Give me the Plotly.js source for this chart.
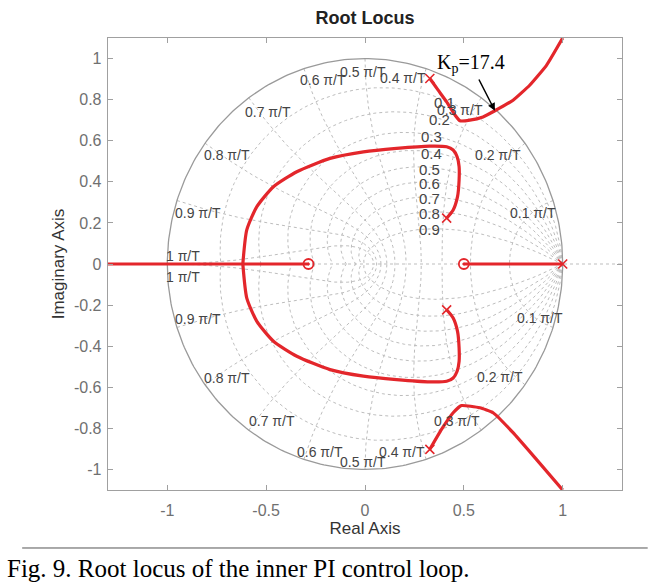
<!DOCTYPE html>
<html><head><meta charset="utf-8">
<script src="https://cdn.plot.ly/plotly-3.0.1.min.js"></script>
<style>body{margin:0;background:#fff}#chart{width:667px;height:585px}</style>
</head><body><div id="chart"></div>
<script>
// ---- root locus data ----
const cUpperX = [0.413, 0.446, 0.468, 0.476, 0.476, 0.466, 0.446, 0.413, 0.328, 0.16, -0.008, -0.177, -0.345, -0.463, -0.547, -0.598, -0.618];
const cUpperY = [0.223, 0.263, 0.328, 0.409, 0.474, 0.522, 0.555, 0.571, 0.574, 0.563, 0.546, 0.514, 0.449, 0.376, 0.279, 0.166, 0];
const cLowerX = [0.413, 0.446, 0.468, 0.476, 0.476, 0.466, 0.446, 0.413, 0.328, 0.16, -0.008, -0.177, -0.345, -0.463, -0.547, -0.598, -0.618];
const cLowerY = [-0.223, -0.263, -0.328, -0.409, -0.474, -0.522, -0.555, -0.571, -0.574, -0.563, -0.546, -0.514, -0.449, -0.376, -0.279, -0.166, 0];
const outUpperX = [0.328, 0.37, 0.413, 0.455, 0.48, 0.53, 0.597, 0.657, 0.749, 0.833, 0.918, 1.0];
const outUpperY = [0.903, 0.846, 0.789, 0.725, 0.697, 0.7, 0.716, 0.746, 0.797, 0.87, 0.967, 1.1];
const outLowerX = [0.328, 0.387, 0.446, 0.488, 0.581, 0.648, 0.749, 0.867, 1.0];
const outLowerY = [-0.902, -0.805, -0.724, -0.689, -0.7, -0.724, -0.821, -0.951, -1.1];
const realLeftX = [-1.3, -0.286];
const realLeftY = [0, 0];
const realRightX = [0.5, 1.0];
const realRightY = [0, 0];
const poleX = [1.0, 0.328, 0.328, 0.413, 0.413];
const poleY = [0, 0.903, -0.902, 0.223, -0.223];
const zeroX = [-0.286, 0.5];
const zeroY = [0, 0];
const kpPointX = 0.657, kpPointY = 0.746;

// tick labels
const xTickVals = [-1, -0.5, 0, 0.5, 1];
const xTickText = ['-1', '-0.5', '0', '0.5', '1'];
const yTickVals = [-1, -0.8, -0.6, -0.4, -0.2, 0, 0.2, 0.4, 0.6, 0.8, 1];
const yTickText = ['-1', '-0.8', '-0.6', '-0.4', '-0.2', '0', '0.2', '0.4', '0.6', '0.8', '1'];

// grid labels
const dampLabels = ['0.1','0.2','0.3','0.4','0.5','0.6','0.7','0.8','0.9'];
const dampLabelX = [0.404, 0.379, 0.337, 0.337, 0.328, 0.325, 0.325, 0.325, 0.325];
const dampLabelY = [0.788, 0.701, 0.619, 0.539, 0.461, 0.393, 0.32, 0.244, 0.166];
const freqLabels = ['0.1 π/T','0.2 π/T','0.3 π/T','0.4 π/T','0.5 π/T','0.6 π/T','0.7 π/T','0.8 π/T','0.9 π/T','1 π/T'];
const freqUpX = [0.848, 0.672, 0.48, 0.19, -0.01, -0.212, -0.49, -0.697, -0.843, -0.919];
const freqUpY = [0.249, 0.53, 0.749, 0.904, 0.933, 0.895, 0.739, 0.53, 0.249, 0.04];
const freqLoX = [0.884, 0.682, 0.465, 0.187, -0.01, -0.227, -0.47, -0.697, -0.843, -0.919];
const freqLoY = [-0.261, -0.548, -0.766, -0.917, -0.966, -0.917, -0.766, -0.555, -0.27, -0.062];

// ---- zgrid geometry ----
function zgrid() {
  const gx = [], gy = [];
  // damping ratio lines
  for (let k = 1; k <= 9; k++) {
    const zeta = k / 10, s = Math.sqrt(1 - zeta * zeta);
    const wmax = Math.PI / s;
    for (const sign of [1, -1]) {
      for (let i = 0; i <= 200; i++) {
        const w = wmax * i / 200;
        const m = Math.exp(-zeta * w);
        gx.push(m * Math.cos(w * s)); gy.push(sign * m * Math.sin(w * s));
      }
      gx.push(null); gy.push(null);
    }
  }
  // natural frequency lines
  for (let k = 1; k <= 10; k++) {
    const w = k * Math.PI / 10;
    for (const sign of [1, -1]) {
      for (let i = 0; i <= 120; i++) {
        const zeta = i / 120, s = Math.sqrt(1 - zeta * zeta);
        const m = Math.exp(-zeta * w);
        gx.push(m * Math.cos(w * s)); gy.push(sign * m * Math.sin(w * s));
      }
      gx.push(null); gy.push(null);
    }
  }
  gx.push(-1.3, 1.3); gy.push(0, 0);
  return [gx, gy];
}
const [gridX, gridY] = zgrid();
const circX = [], circY = [];
for (let i = 0; i <= 360; i++) { circX.push(Math.cos(i * Math.PI / 180)); circY.push(Math.sin(i * Math.PI / 180)); }

const red = '#e3262b';
const locusLine = {color: red, width: 3.2, shape: 'spline', smoothing: 0.6};
const traces = [
  {x: gridX, y: gridY, mode: 'lines', line: {color: '#bdbdbd', width: 1, dash: 'dot'}, hoverinfo: 'skip'},
  {x: circX, y: circY, mode: 'lines', line: {color: '#9a9a9a', width: 1.3}, hoverinfo: 'skip'},
  {x: realLeftX, y: realLeftY, mode: 'lines', line: {color: red, width: 3.2}},
  {x: realRightX, y: realRightY, mode: 'lines', line: {color: red, width: 3.2}},
  {x: cUpperX, y: cUpperY, mode: 'lines', line: locusLine},
  {x: cLowerX, y: cLowerY, mode: 'lines', line: locusLine},
  {x: outUpperX, y: outUpperY, mode: 'lines', line: {color: red, width: 3.2, shape: 'spline', smoothing: 0.4}},
  {x: outLowerX, y: outLowerY, mode: 'lines', line: {color: red, width: 3.2, shape: 'spline', smoothing: 0.4}},
  {x: poleX, y: poleY, mode: 'markers', marker: {symbol: 'x-thin-open', size: 9, color: red, line: {color: red, width: 1.6}}},
  {x: zeroX, y: zeroY, mode: 'markers', marker: {symbol: 'circle-open-dot', size: 10, color: red, line: {color: red, width: 1.8}}}
];

const ann = [];
dampLabels.forEach((t, i) => ann.push({x: dampLabelX[i], y: dampLabelY[i], text: t, showarrow: false,
  font: {family: 'Liberation Sans, Arial', size: 15, color: '#444'}}));
freqLabels.forEach((t, i) => {
  ann.push({x: freqUpX[i], y: freqUpY[i], text: t, showarrow: false, font: {family: 'Liberation Sans, Arial', size: 14, color: '#444'}});
  ann.push({x: freqLoX[i], y: freqLoY[i], text: t, showarrow: false, font: {family: 'Liberation Sans, Arial', size: 14, color: '#444'}});
});
ann.push({x: kpPointX, y: kpPointY, text: 'K<sub>p</sub>=17.4', showarrow: true, ax: -24, ay: -47,
  arrowhead: 2, arrowsize: 1, arrowwidth: 1.5, arrowcolor: '#000', startstandoff: 2,
  font: {family: 'Liberation Serif, Times New Roman', size: 20, color: '#000'}});
ann.push({xref: 'paper', yref: 'paper', x: -0.2004, y: -0.1726, xanchor: 'left', yanchor: 'middle', showarrow: false,
  text: 'Fig. 9. Root locus of the inner PI control loop.',
  font: {family: 'Liberation Serif, Times New Roman', size: 25, color: '#000'}});

const axisCommon = {showgrid: false, zeroline: false, showline: true, linecolor: '#a0a0a0', linewidth: 1.3,
  mirror: 'ticks', ticks: 'inside', ticklen: 5, tickcolor: '#a0a0a0', tickwidth: 1,
  tickfont: {family: 'Liberation Sans, Arial', size: 16, color: '#707070'}};

const layout = {
  width: 667, height: 585,
  margin: {l: 108, r: 45, t: 38, b: 95},
  paper_bgcolor: '#fff', plot_bgcolor: '#fff',
  showlegend: false,
  title: {text: '<b>Root Locus</b>', x: 0.5, xref: 'paper', y: 1 - 18 / 585, yref: 'container', yanchor: 'middle',
    font: {family: 'Liberation Sans, Arial', size: 18, color: '#222'}},
  xaxis: Object.assign({}, axisCommon, {range: [-1.3, 1.3], tickvals: xTickVals, ticktext: xTickText, ticklabelstandoff: 5,
    title: {text: 'Real Axis', standoff: 1, font: {family: 'Liberation Sans, Arial', size: 17, color: '#333'}}}),
  yaxis: Object.assign({}, axisCommon, {range: [-1.1, 1.1], tickvals: yTickVals, ticktext: yTickText, ticklabelstandoff: 2,
    title: {text: 'Imaginary Axis', standoff: 5, font: {family: 'Liberation Sans, Arial', size: 17, color: '#333'}}}),
  annotations: ann,
  shapes: [{type: 'line', xref: 'paper', yref: 'paper', x0: -0.167, x1: 1.05, y0: -0.1283, y1: -0.1283, line: {color: '#555', width: 1}}]
};
Plotly.newPlot('chart', traces, layout, {staticPlot: true, displayModeBar: false});
</script></body></html>
